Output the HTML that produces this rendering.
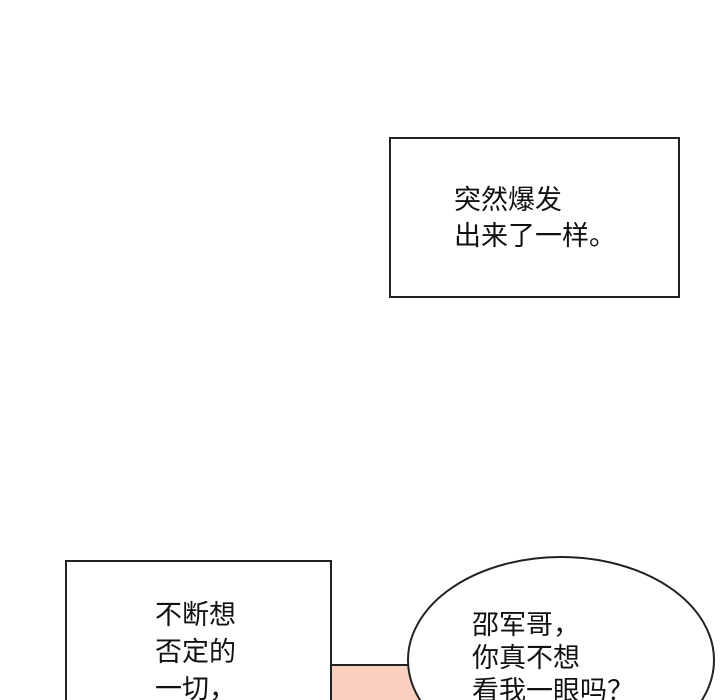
<!DOCTYPE html><html style="overflow:hidden;height:700px"><head><meta charset="utf-8"><style>
body{margin:0;width:720px;height:700px;overflow:hidden;background:#fff;position:relative;font-family:"Liberation Sans","Noto Sans CJK SC",sans-serif;}
.b{position:absolute;border:2px solid #222;background:#fff;box-sizing:border-box;}
.t{position:absolute;font-size:27px;color:#111;white-space:nowrap;}
</style></head><body>
<div class="b" style="left:389px;top:137px;width:291px;height:161px"></div>
<div class="t" style="left:454px;top:182px;line-height:36px">突然爆发<br>出来了一样。</div>
<div style="position:absolute;left:330px;top:664px;width:100px;height:36px;background:#f9cfc0;border-top:2px solid #222"></div>
<div class="b" style="left:65px;top:560px;width:267px;height:140px;border-bottom:none"></div>
<div class="t" style="left:155px;top:597px;line-height:37px">不断想<br>否定的<br>一切，</div>
<svg style="position:absolute;left:0;top:0" width="720" height="700"><ellipse cx="561" cy="660" rx="153" ry="103" fill="#fff" stroke="#222" stroke-width="2"/></svg>
<div class="t" style="left:472px;top:609px;line-height:33px">邵军哥，<br>你真不想<br>看我一眼吗？</div>
</body></html>
